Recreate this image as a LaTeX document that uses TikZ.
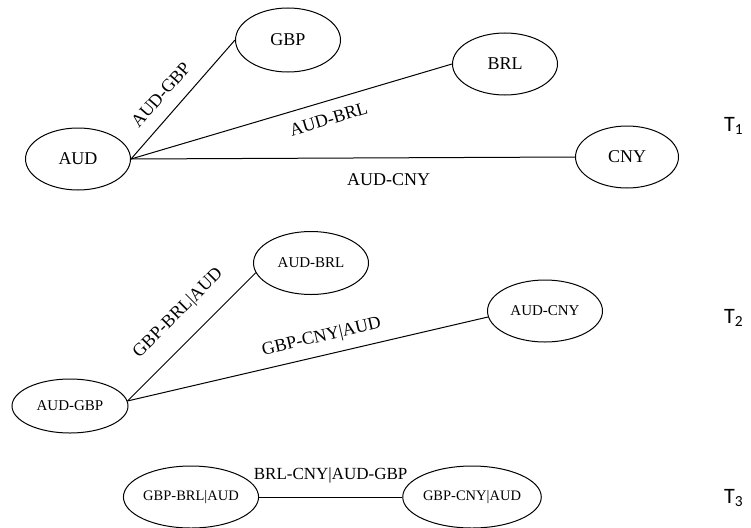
\documentclass[tikz,border=0pt]{standalone}
\usepackage{fontspec}
\setmainfont{Liberation Serif}
\newfontfamily\tfont{Carlito}
\usepackage{tikz}
\usetikzlibrary{shapes.geometric}

\tikzset{
    cur/.style={draw, ellipse, line width=1pt, inner sep=0pt,
        minimum width=105pt, minimum height=62pt},
    link/.style={draw, line width=1pt},
    big/.style={font=\fontsize{18}{20}\selectfont},
    mid/.style={font=\fontsize{15}{17}\selectfont},
    small/.style={font=\fontsize{14.5}{16}\selectfont},
    tlab/.style={font=\tfont\fontsize{22}{24}\selectfont, inner sep=0pt, anchor=base west}
}

\begin{document}
\begin{tikzpicture}[x=1pt,y=-1pt]
    \useasboundingbox (0,0) rectangle (751,527);

    % tree T1
    \node[cur, big] (AUD) at (78,159) {AUD};
    \node[cur, big, minimum height=64pt] (GBP) at (288,40) {GBP};
    \node[cur, big] (BRL) at (505,64) {BRL};
    \node[cur, big, minimum width=103pt] (CNY) at (627,157) {CNY};
    \draw[link] (AUD.east) -- (GBP.west)
        node[pos=0.43, sloped, above=10pt, big] (lGBP) {AUD-GBP};
    \draw[link] (AUD.east) -- (BRL.west)
        node[pos=0.6, sloped, below=8pt, big] (lBRL) {AUD-BRL};
    \draw[link] (AUD.east) -- (CNY.west)
        node[pos=0.58, below=12pt, big] (lCNY) {AUD-CNY};

    % tree T2
    \node[cur, mid, minimum width=116pt, minimum height=54pt] (ag) at (70,406) {AUD-GBP};
    \node[cur, mid, minimum width=115pt, minimum height=63pt] (ab) at (311,263) {AUD-BRL};
    \node[cur, mid, minimum width=115pt] (ac) at (545,311) {AUD-CNY};
    \draw[link] (ag.5) -- (ab.190)
        node[pos=0.54, sloped, above=14pt, big] (lab) {GBP-BRL|AUD};
    \draw[link] (ag.5) -- (ac.186)
        node[pos=0.55, sloped, above=6pt, big] (lac) {GBP-CNY|AUD};

    % tree T3
    \node[cur, small, minimum width=112pt] (gb) at (191,497) {GBP-BRL|AUD};
    \node[cur, small, minimum width=115pt] (gc) at (472,497) {GBP-CNY|AUD};
    \draw[link] (gb.east) -- (gc.west)
        node[midway, above=10pt, font=\fontsize{17}{19}\selectfont] (lgg) {BRL-CNY|AUD-GBP};

    % tree names
    \foreach \y/\i in {131/1,323/2,503/3} {
        \node[tlab] (T\i) at (724,\y) {T\textsubscript{\i}};
    }
\end{tikzpicture}
\end{document}
